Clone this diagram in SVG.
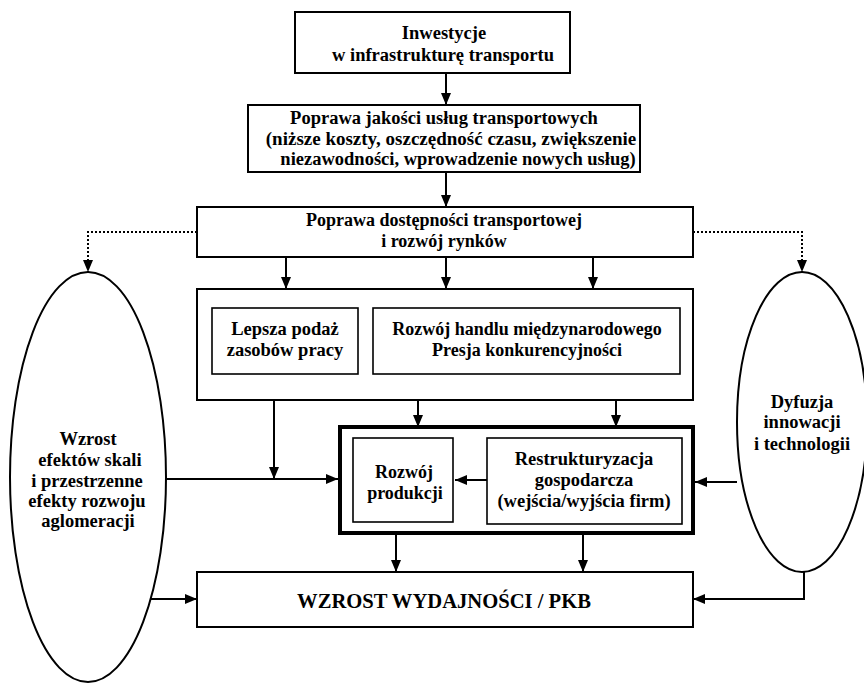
<svg xmlns="http://www.w3.org/2000/svg" width="864" height="684" viewBox="0 0 864 684">
<defs>
<marker id="ah" markerUnits="userSpaceOnUse" markerWidth="12" markerHeight="10" viewBox="0 0 12 10" refX="12" refY="5" orient="auto"><path d="M0,0 L12,5 L0,10 z" fill="#000"/></marker>
</defs>
<style>
.box{fill:#fff;stroke:#000;stroke-width:2}
.inner{fill:#fff;stroke:#000;stroke-width:1.6}
.thick{fill:#fff;stroke:#000;stroke-width:4}
.ell{fill:#fff;stroke:#000;stroke-width:2}
.c{fill:none;stroke:#000;stroke-width:2}
.a{marker-end:url(#ah)}
.dot{fill:none;stroke:#000;stroke-width:2;stroke-dasharray:2 2}
text{font-family:"Liberation Serif","Times New Roman",serif;font-weight:bold;font-size:18.5px;text-anchor:middle;fill:#000}
.m{font-size:19px}
.s{font-size:18px}
.big{font-size:20.6px}
</style>
<rect width="864" height="684" fill="#fff"/>
<g id="n1"><rect class="box" x="295" y="12" width="275" height="61"/><text x="444" y="39">Inwestycje</text><text x="443" y="61">w infrastrukturę transportu</text></g>
<g id="n2"><rect class="box" x="248" y="105" width="392" height="67"/><text x="444" y="124">Poprawa jakości usług transportowych</text><text class="m" x="451" y="145">(niższe koszty, oszczędność czasu, zwiększenie</text><text x="458" y="165">niezawodności, wprowadzenie nowych usług)</text></g>
<g id="n3"><rect class="box" x="197" y="207" width="496" height="50"/><text class="s" x="444" y="226">Poprawa dostępności transportowej</text><text class="s" x="444" y="247">i rozwój rynków</text></g>
<g id="n4"><rect class="box" x="197" y="289" width="496" height="111"/></g>
<g id="n4a"><rect class="inner" x="212" y="308" width="146" height="66"/><text x="285" y="335">Lepsza podaż</text><text x="285" y="356">zasobów pracy</text></g>
<g id="n4b"><rect class="inner" x="373" y="308" width="307" height="66"/><text class="s" x="527" y="335">Rozwój handlu międzynarodowego</text><text class="s" x="527" y="356">Presja konkurencyjności</text></g>
<g id="n5"><rect class="thick" x="340" y="427" width="353" height="106"/></g>
<g id="n5a"><rect class="inner" x="353" y="438" width="100" height="84"/><text class="s" x="404" y="478">Rozwój</text><text class="s" x="405" y="499">produkcji</text></g>
<g id="n5b"><rect class="inner" x="487" y="438" width="195" height="86"/><text x="584" y="465">Restrukturyzacja</text><text x="584" y="486">gospodarcza</text><text x="584" y="507">(wejścia/wyjścia firm)</text></g>
<g id="n6"><rect class="box" x="197" y="572" width="496" height="55"/><text class="big" x="444" y="608">WZROST WYDAJNOŚCI / PKB</text></g>
<g id="e1"><ellipse class="ell" cx="88" cy="477" rx="78" ry="205"/><text x="88" y="445">Wzrost</text><text x="90" y="466">efektów skali</text><text x="87" y="487">i przestrzenne</text><text x="87" y="507">efekty rozwoju</text><text x="88" y="527">aglomeracji</text></g>
<g id="e2"><ellipse class="ell" cx="802" cy="422" rx="65" ry="150"/><text x="802" y="408">Dyfuzja</text><text x="802" y="428">innowacji</text><text x="802" y="450">i technologii</text></g>
<g id="connectors">
<path class="c a" d="M446,73 V105"/>
<path class="c a" d="M446,172 V207"/>
<path class="dot a" d="M197,232 H88 V272"/>
<path class="dot a" d="M693,232 H802 V272"/>
<path class="c a" d="M286,257 V289"/>
<path class="c a" d="M446,257 V289"/>
<path class="c a" d="M593,257 V289"/>
<path class="c a" d="M274,400 V479"/>
<path class="c a" d="M418,400 V427"/>
<path class="c a" d="M616,400 V427"/>
<path class="c a" d="M166,479 H338"/>
<path class="c a" d="M487,480 H455"/>
<path class="c a" d="M737,482 H695"/>
<path class="c a" d="M396,533 V572"/>
<path class="c a" d="M583,533 V572"/>
<path class="c a" d="M151,599 H197"/>
<path class="c a" d="M804,572 V599 H693"/>
</g>
</svg>
